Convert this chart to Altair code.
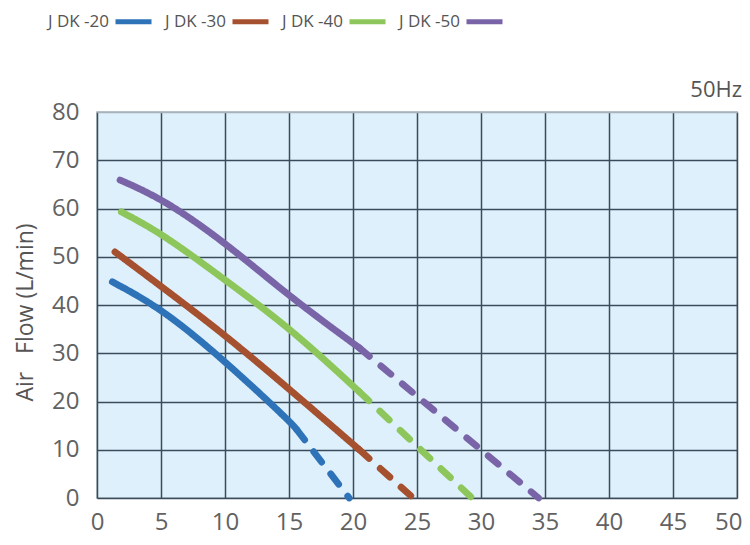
import altair as alt
import pandas as pd

series = ["J DK -20", "J DK -30", "J DK -40", "J DK -50"]
colors = ["#2e73b8", "#a5502e", "#8dc65a", "#7a64a8"]

# solid part of each curve (pressure kPa, air flow L/min)
x20 = [1.2, 5.1, 10.0, 15.1, 15.6]
y20 = [44.8, 39.2, 28.4, 15.8, 14.2]
x30 = [1.4, 5.1, 10.0, 15.1, 20.5]
y30 = [51.0, 43.7, 33.8, 22.4, 10.0]
x40 = [1.9, 5.1, 10.0, 15.1, 20.5]
y40 = [59.3, 54.8, 45.2, 35.2, 22.0]
x50 = [1.8, 5.2, 10.0, 15.1, 20.5]
y50 = [65.9, 61.9, 53.0, 41.6, 31.1]
# dashed extension down to zero flow
x_zero = [19.7, 24.7, 29.3, 34.5]

freq_label = ["50Hz"]

xs = [x20, x30, x40, x50]
ys = [y20, y30, y40, y50]

rows = []
for s, xv, yv, xz in zip(series, xs, ys, x_zero):
    for i, (a, b) in enumerate(zip(xv, yv)):
        rows.append({"series": s, "seg": "solid", "x": a, "y": b, "order": i})
    rows.append({"series": s, "seg": "dashed", "x": xv[-1], "y": yv[-1], "order": 0})
    rows.append({"series": s, "seg": "dashed", "x": xz, "y": 0.0, "order": 1})
df = pd.DataFrame(rows)

hz_df = pd.DataFrame({"x": [50], "y": [80], "t": freq_label})

FONT = "Open Sans"
GRID = "#3a4b5c"
LABEL = "#626262"

x_scale = alt.Scale(domain=[0, 50], nice=False)
y_scale = alt.Scale(domain=[0, 80], nice=False)

lines = alt.Chart(df).mark_line(
    strokeWidth=6.8, strokeCap="round", interpolate="basis"
).encode(
    x=alt.X("x:Q", scale=x_scale,
            axis=alt.Axis(values=list(range(0, 51, 5)), title=None, ticks=False, tickSize=0,
                          domain=False, labelFontSize=24, labelFont=FONT, labelColor=LABEL,
                          labelPadding=12, labelFlush=False, labelOverlap=False,
                          labelAlign={"condition": {"test": "datum.value == 50", "value": "right"},
                                      "value": "center"},
                          labelOffset={"condition": {"test": "datum.value == 50", "value": 5},
                                       "value": 0},
                          gridColor=GRID, gridWidth=1.5)),
    y=alt.Y("y:Q", scale=y_scale,
            axis=alt.Axis(values=list(range(0, 81, 10)),
                          title="Air\u00a0\u00a0\u00a0Flow (L/min)",
                          ticks=False, tickSize=0, domain=False, labelFontSize=24, labelFont=FONT,
                          labelColor=LABEL, labelPadding=18, labelOverlap=False,
                          titleFont=FONT, titleFontSize=23, titleFontWeight="normal",
                          titleColor="#555555", titleX=-72, titleY=200, titleAngle=270,
                          titleAlign="center", titleBaseline="middle",
                          gridColor={"condition": {"test": "datum.value == 80", "value": "#a8b2bb"},
                                     "value": GRID},
                          gridWidth=1.5)),
    color=alt.Color("series:N",
                    scale=alt.Scale(domain=series, range=colors),
                    legend=alt.Legend(title=None, orient="none", direction="horizontal",
                                      legendX=16, legendY=-111, symbolType="stroke",
                                      symbolSize=1296, symbolStrokeWidth=5,
                                      labelAlign="right", labelOffset={"expr": "-45"},
                                      labelFontSize=17, labelFont=FONT, labelColor="#555555",
                                      columnPadding=2)),
    strokeDash=alt.StrokeDash("seg:N",
                              scale=alt.Scale(domain=["solid", "dashed"], range=[[1, 0], [13, 15]]),
                              legend=None),
    order="order:Q",
)

hz = alt.Chart(hz_df).mark_text(
    align="right", baseline="alphabetic", dx=5, dy=-15, fontSize=22, font=FONT, color="#555555"
).encode(x=alt.X("x:Q", scale=x_scale), y=alt.Y("y:Q", scale=y_scale), text="t:N")

chart = alt.layer(lines, hz).properties(
    width=640, height=386,
    autosize=alt.AutoSizeParams(type="none"),
    padding={"left": 89, "top": 104, "right": 5, "bottom": 39},
).configure_view(
    fill="#def0fb", stroke="#a8b2bb", strokeWidth=1.5
)

chart.save("out.html", embed_options={"renderer": "svg", "actions": False})
